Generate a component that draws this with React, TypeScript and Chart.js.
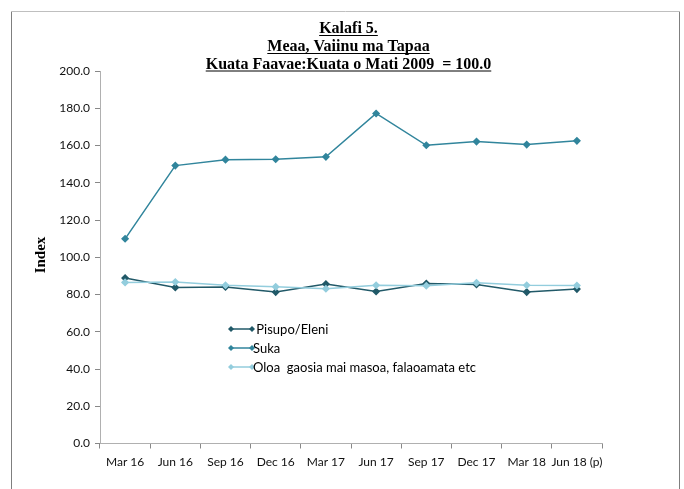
import React, { useEffect, useRef } from "react";
import { Chart, registerables } from "chart.js";

Chart.register(...registerables);

const categories = ["Mar 16", "Jun 16", "Sep 16", "Dec 16", "Mar 17", "Jun 17", "Sep 17", "Dec 17", "Mar 18", "Jun 18 (p)"];
const pisupo = [88.8, 83.8, 84.0, 81.3, 85.6, 81.6, 85.9, 85.4, 81.3, 82.9];
const suka = [109.9, 149.2, 152.4, 152.6, 153.9, 177.2, 160.1, 162.1, 160.5, 162.5];
const oloa = [86.5, 86.7, 85.0, 84.1, 83.1, 85.0, 84.7, 86.3, 85.0, 84.8];
const seriesNames = [" Pisupo/Eleni", "Suka", "Oloa  gaosia mai masoa, falaoamata etc"];
const titleLines = ["Kalafi 5.", "Meaa, Vaiinu ma Tapaa", "Kuata Faavae:Kuata o Mati 2009  = 100.0"];
const yAxisTitle = "Index";

const colors = ["#215968", "#31859c", "#93cddd"];

const decorPlugin = {
  id: "decor",
  beforeDraw(chart: any) {
    const ctx = chart.ctx;
    ctx.save();
    ctx.fillStyle = "#ffffff";
    ctx.fillRect(0, 0, chart.width, chart.height);
    ctx.lineWidth = 1;
    ctx.strokeStyle = "#bfbfbf";
    ctx.beginPath();
    ctx.moveTo(11, 11.5);
    ctx.lineTo(680, 11.5);
    ctx.stroke();
    ctx.strokeStyle = "#7f7f7f";
    ctx.beginPath();
    ctx.moveTo(11.5, 12);
    ctx.lineTo(11.5, 489);
    ctx.moveTo(679.5, 12);
    ctx.lineTo(679.5, 489);
    ctx.stroke();
    ctx.restore();
  },
  afterDraw(chart: any) {
    const ctx = chart.ctx;
    ctx.save();
    // title
    ctx.fillStyle = "#000";
    ctx.strokeStyle = "#000";
    ctx.font = "bold 16px 'Liberation Serif', serif";
    ctx.textAlign = "center";
    ctx.textBaseline = "alphabetic";
    const cx = 348.5;
    const baselines = [33, 51, 68.5];
    titleLines.forEach((t, i) => {
      ctx.fillText(t, cx, baselines[i]);
      const w = ctx.measureText(t).width;
      ctx.lineWidth = 1;
      ctx.beginPath();
      ctx.moveTo(cx - w / 2, baselines[i] + 2.5);
      ctx.lineTo(cx + w / 2, baselines[i] + 2.5);
      ctx.stroke();
    });
    // y axis title
    ctx.save();
    ctx.translate(41, 255);
    ctx.rotate(-Math.PI / 2);
    ctx.font = "bold 15px 'Liberation Serif', serif";
    ctx.textAlign = "center";
    ctx.textBaseline = "middle";
    ctx.fillText(yAxisTitle, 0, 0);
    ctx.restore();
    // legend
    const ys = [329, 348, 367];
    chart.data.datasets.forEach((ds: any, i: number) => {
      const y = ys[i];
      ctx.strokeStyle = ds.borderColor;
      ctx.lineWidth = 1.5;
      ctx.beginPath();
      ctx.moveTo(231, y);
      ctx.lineTo(252, y);
      ctx.stroke();
      ctx.fillStyle = ds.borderColor;
      [231, 252].forEach((x) => {
        ctx.beginPath();
        ctx.moveTo(x, y - 3);
        ctx.lineTo(x + 3, y);
        ctx.lineTo(x, y + 3);
        ctx.lineTo(x - 3, y);
        ctx.closePath();
        ctx.fill();
      });
      ctx.fillStyle = "#000";
      ctx.font = "13px Lato, sans-serif";
      ctx.textAlign = "left";
      ctx.textBaseline = "middle";
      ctx.fillText(ds.label, 253, y + 0.5);
    });
    ctx.restore();
  },
};

export default function App() {
  const ref = useRef<HTMLCanvasElement | null>(null);
  useEffect(() => {
    if (!ref.current) return;
    const series = [pisupo, suka, oloa];
    const chart = new Chart(ref.current, {
      type: "line",
      data: {
        labels: categories,
        datasets: series.map((d, i) => ({
          label: seriesNames[i],
          data: d,
          borderColor: colors[i],
          backgroundColor: colors[i],
          borderWidth: 1.5,
          pointStyle: "rectRot",
          pointRadius: 3,
          pointHoverRadius: 3,
          tension: 0,
          fill: false,
          order: 3 - i,
        })),
      },
      plugins: [decorPlugin],
      options: {
        animation: false,
        responsive: false,
        devicePixelRatio: 1,
        layout: { padding: { top: 71, left: 0, right: 82, bottom: 10 } },
        plugins: {
          legend: { display: false },
          title: { display: false },
          tooltip: { enabled: false },
        },
        scales: {
          x: {
            type: "category",
            offset: true,
            grid: {
              display: true,
              offset: true,
              drawOnChartArea: false,
              drawTicks: true,
              tickLength: 5,
              tickColor: "#888888",
            },
            border: { display: true, color: "#b0b0b0", width: 1 },
            ticks: {
              color: "#111",
              font: { family: "Lato, sans-serif", size: 12 },
              padding: 6,
              maxRotation: 0,
              autoSkip: false,
            },
            afterFit(scale: any) {
              scale.height = 35.5;
              scale.paddingLeft = 0;
              scale.paddingRight = 0;
            },
          },
          y: {
            min: 0,
            max: 200,
            grid: {
              display: true,
              drawOnChartArea: false,
              drawTicks: true,
              tickLength: 5,
              tickColor: "#888888",
            },
            border: { display: true, color: "#b0b0b0", width: 1 },
            ticks: {
              stepSize: 20,
              color: "#111",
              font: { family: "Lato, sans-serif", size: 12 },
              padding: 5,
              callback: (v: any) => Number(v).toFixed(1),
            },
            afterFit(scale: any) {
              scale.width = 100;
              scale.paddingTop = 0;
              scale.paddingBottom = 0;
            },
          },
        },
      },
    });
    return () => chart.destroy();
  }, []);
  return (
    <div style={{ position: "fixed", left: 0, top: 0, width: 684, height: 489, background: "#fff" }}>
      <canvas ref={ref} width={684} height={489} style={{ width: 684, height: 489, display: "block" }} />
    </div>
  );
}
